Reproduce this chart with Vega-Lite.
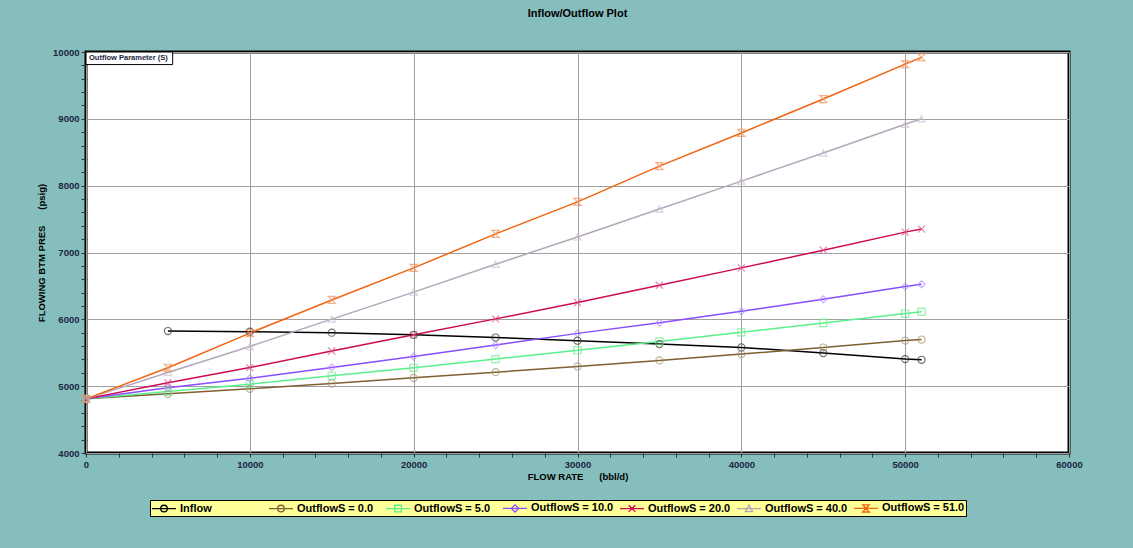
{
  "$schema": "https://vega.github.io/schema/vega-lite/v6.json",
  "autosize": {"type": "none"},
  "width": 983,
  "height": 401,
  "padding": {"left": 86, "top": 52, "right": 64, "bottom": 95},
  "background": "#86bdbd",
  "title": {"text": "Inflow/Outflow Plot", "font": "Liberation Sans Narrow, Liberation Sans", "fontSize": 11, "fontWeight": "bold", "color": "#000000", "anchor": "middle", "frame": "group", "offset": 28},
  "config": {
    "view": {"stroke": "#000000", "strokeWidth": 3, "fill": "#ffffff"},
    "axis": {"labelFont": "Liberation Sans", "labelFontSize": 9.5, "labelFontWeight": "bold", "labelColor": "#1c2541", "titleFont": "Liberation Sans", "titleFontSize": 9.5, "titleFontWeight": "bold", "titleColor": "#000000", "domain": false, "tickColor": "#333333", "tickSize": 5, "gridColor": "#a0a0a0", "gridWidth": 1, "labelOverlap": false, "labelFlush": false},
    "point": {"filled": false, "strokeWidth": 1.2, "size": 50}
  },
  "datasets": {
    "curves": [
      {"s": "Inflow", "q": 5000, "p": 5825}, {"s": "Inflow", "q": 10000, "p": 5815}, {"s": "Inflow", "q": 15000, "p": 5800}, {"s": "Inflow", "q": 20000, "p": 5768}, {"s": "Inflow", "q": 25000, "p": 5728}, {"s": "Inflow", "q": 30000, "p": 5680}, {"s": "Inflow", "q": 35000, "p": 5630}, {"s": "Inflow", "q": 40000, "p": 5580}, {"s": "Inflow", "q": 45000, "p": 5495}, {"s": "Inflow", "q": 50000, "p": 5405}, {"s": "Inflow", "q": 51000, "p": 5395},
      {"s": "OutflowS = 0.0", "q": 0, "p": 4810}, {"s": "OutflowS = 0.0", "q": 5000, "p": 4885}, {"s": "OutflowS = 0.0", "q": 10000, "p": 4960}, {"s": "OutflowS = 0.0", "q": 15000, "p": 5040}, {"s": "OutflowS = 0.0", "q": 20000, "p": 5125}, {"s": "OutflowS = 0.0", "q": 25000, "p": 5210}, {"s": "OutflowS = 0.0", "q": 30000, "p": 5295}, {"s": "OutflowS = 0.0", "q": 35000, "p": 5385}, {"s": "OutflowS = 0.0", "q": 40000, "p": 5480}, {"s": "OutflowS = 0.0", "q": 45000, "p": 5578}, {"s": "OutflowS = 0.0", "q": 50000, "p": 5683}, {"s": "OutflowS = 0.0", "q": 51000, "p": 5698},
      {"s": "OutflowS = 5.0", "q": 0, "p": 4810}, {"s": "OutflowS = 5.0", "q": 5000, "p": 4920}, {"s": "OutflowS = 5.0", "q": 10000, "p": 5030}, {"s": "OutflowS = 5.0", "q": 15000, "p": 5155}, {"s": "OutflowS = 5.0", "q": 20000, "p": 5275}, {"s": "OutflowS = 5.0", "q": 25000, "p": 5405}, {"s": "OutflowS = 5.0", "q": 30000, "p": 5538}, {"s": "OutflowS = 5.0", "q": 35000, "p": 5670}, {"s": "OutflowS = 5.0", "q": 40000, "p": 5805}, {"s": "OutflowS = 5.0", "q": 45000, "p": 5945}, {"s": "OutflowS = 5.0", "q": 50000, "p": 6087}, {"s": "OutflowS = 5.0", "q": 51000, "p": 6115},
      {"s": "OutflowS = 10.0", "q": 0, "p": 4810}, {"s": "OutflowS = 10.0", "q": 5000, "p": 4975}, {"s": "OutflowS = 10.0", "q": 10000, "p": 5118}, {"s": "OutflowS = 10.0", "q": 15000, "p": 5280}, {"s": "OutflowS = 10.0", "q": 20000, "p": 5444}, {"s": "OutflowS = 10.0", "q": 25000, "p": 5615}, {"s": "OutflowS = 10.0", "q": 30000, "p": 5790}, {"s": "OutflowS = 10.0", "q": 35000, "p": 5950}, {"s": "OutflowS = 10.0", "q": 40000, "p": 6120}, {"s": "OutflowS = 10.0", "q": 45000, "p": 6300}, {"s": "OutflowS = 10.0", "q": 50000, "p": 6490}, {"s": "OutflowS = 10.0", "q": 51000, "p": 6525},
      {"s": "OutflowS = 20.0", "q": 0, "p": 4810}, {"s": "OutflowS = 20.0", "q": 5000, "p": 5050}, {"s": "OutflowS = 20.0", "q": 10000, "p": 5278}, {"s": "OutflowS = 20.0", "q": 15000, "p": 5525}, {"s": "OutflowS = 20.0", "q": 20000, "p": 5768}, {"s": "OutflowS = 20.0", "q": 25000, "p": 6007}, {"s": "OutflowS = 20.0", "q": 30000, "p": 6251}, {"s": "OutflowS = 20.0", "q": 35000, "p": 6510}, {"s": "OutflowS = 20.0", "q": 40000, "p": 6770}, {"s": "OutflowS = 20.0", "q": 45000, "p": 7035}, {"s": "OutflowS = 20.0", "q": 50000, "p": 7305}, {"s": "OutflowS = 20.0", "q": 51000, "p": 7350},
      {"s": "OutflowS = 40.0", "q": 0, "p": 4810}, {"s": "OutflowS = 40.0", "q": 5000, "p": 5205}, {"s": "OutflowS = 40.0", "q": 10000, "p": 5594}, {"s": "OutflowS = 40.0", "q": 15000, "p": 6003}, {"s": "OutflowS = 40.0", "q": 20000, "p": 6407}, {"s": "OutflowS = 40.0", "q": 25000, "p": 6824}, {"s": "OutflowS = 40.0", "q": 30000, "p": 7233}, {"s": "OutflowS = 40.0", "q": 35000, "p": 7650}, {"s": "OutflowS = 40.0", "q": 40000, "p": 8068}, {"s": "OutflowS = 40.0", "q": 45000, "p": 8488}, {"s": "OutflowS = 40.0", "q": 50000, "p": 8918}, {"s": "OutflowS = 40.0", "q": 51000, "p": 9001},
      {"s": "OutflowS = 51.0", "q": 0, "p": 4810}, {"s": "OutflowS = 51.0", "q": 5000, "p": 5275}, {"s": "OutflowS = 51.0", "q": 10000, "p": 5794}, {"s": "OutflowS = 51.0", "q": 15000, "p": 6290}, {"s": "OutflowS = 51.0", "q": 20000, "p": 6770}, {"s": "OutflowS = 51.0", "q": 25000, "p": 7278}, {"s": "OutflowS = 51.0", "q": 30000, "p": 7757}, {"s": "OutflowS = 51.0", "q": 35000, "p": 8293}, {"s": "OutflowS = 51.0", "q": 40000, "p": 8789}, {"s": "OutflowS = 51.0", "q": 45000, "p": 9296}, {"s": "OutflowS = 51.0", "q": 50000, "p": 9819}, {"s": "OutflowS = 51.0", "q": 51000, "p": 9919}
    ]
  },
  "layer": [
    {
      "data": {"name": "curves"},
      "mark": {"type": "line", "strokeWidth": 1.5},
      "encoding": {
        "x": {"field": "q", "type": "quantitative", "title": "FLOW RATE\u00a0\u00a0\u00a0\u00a0\u00a0\u00a0(bbl/d)", "scale": {"domain": [0, 60000], "nice": false},
          "axis": {"values": [0,2000,4000,6000,8000,10000,12000,14000,16000,18000,20000,22000,24000,26000,28000,30000,32000,34000,36000,38000,40000,42000,44000,46000,48000,50000,52000,54000,56000,58000,60000], "tickCount": 100, "format": "d", "labelExpr": "datum.value % 10000 === 0 ? datum.label : ''", "gridColor": {"condition": {"test": "datum.value % 10000 === 0", "value": "#a0a0a0"}, "value": "transparent"}, "tickSize": 4, "labelPadding": 2, "titlePadding": 3}},
        "y": {"field": "p", "type": "quantitative", "title": "FLOWING BTM PRES\u00a0\u00a0\u00a0\u00a0\u00a0\u00a0(psig)", "scale": {"domain": [4000, 10000], "nice": false},
          "axis": {"values": [4000,4200,4400,4600,4800,5000,5200,5400,5600,5800,6000,6200,6400,6600,6800,7000,7200,7400,7600,7800,8000,8200,8400,8600,8800,9000,9200,9400,9600,9800,10000], "tickCount": 100, "format": "d", "labelExpr": "datum.value % 1000 === 0 ? datum.label : ''", "gridColor": {"condition": {"test": "datum.value % 1000 === 0", "value": "#a0a0a0"}, "value": "transparent"}, "tickSize": 5, "labelPadding": 2, "titlePadding": 6}},
        "color": {"field": "s", "type": "nominal",
          "scale": {"domain": ["Inflow", "OutflowS = 0.0", "OutflowS = 5.0", "OutflowS = 10.0", "OutflowS = 20.0", "OutflowS = 40.0", "OutflowS = 51.0"], "range": ["#000000", "#7d5f30", "#5cf08c", "#8a4dff", "#cc0a55", "#b4a6bc", "#f06410"]},
          "legend": {"title": null, "orient": "none", "legendX": 64, "legendY": 448, "direction": "horizontal", "columns": 7, "gridAlign": "all", "fillColor": "#ffff99", "strokeColor": "#000000", "padding": 1, "columnPadding": 3, "symbolSize": 144, "symbolOffset": 6, "labelOffset": 9, "labelFont": "Liberation Sans", "labelFontSize": 11, "labelFontWeight": "bold", "labelColor": "#000000", "labelLimit": 200,
            "encode": {"symbols": {"update": {"fill": {"value": "transparent"}, "strokeWidth": {"value": 1.3},
              "shape": {"signal": "datum.value === 'Inflow' || datum.value === 'OutflowS = 0.0' ? 'M-2,0L2,0M-0.55,0A0.55,0.55 0 1,0 0.55,0A0.55,0.55 0 1,0 -0.55,0' : datum.value === 'OutflowS = 5.0' ? 'M-2,0L2,0M-0.55,-0.55L0.55,-0.55L0.55,0.55L-0.55,0.55Z' : datum.value === 'OutflowS = 10.0' ? 'M-2,0L2,0M0,-0.6L0.6,0L0,0.6L-0.6,0Z' : datum.value === 'OutflowS = 20.0' ? 'M-2,0L2,0M-0.55,-0.55L0.55,0.55M-0.55,0.55L0.55,-0.55' : datum.value === 'OutflowS = 40.0' ? 'M-2,0L2,0M0,-0.6L0.6,0.5L-0.6,0.5Z' : 'M-2,0L2,0M-0.55,-0.6L0.55,-0.6L-0.55,0.6L0.55,0.6Z'"}}}}}}
      }
    },
    {
      "data": {"name": "curves"},
      "transform": [{"filter": "datum.s === 'Inflow' || datum.s === 'OutflowS = 0.0'"}],
      "mark": {"type": "point", "shape": "circle"},
      "encoding": {
        "x": {"field": "q", "type": "quantitative"},
        "y": {"field": "p", "type": "quantitative"},
        "stroke": {"field": "s", "type": "nominal", "legend": null, "scale": {"domain": ["Inflow", "OutflowS = 0.0", "OutflowS = 5.0", "OutflowS = 10.0", "OutflowS = 20.0", "OutflowS = 40.0", "OutflowS = 51.0"], "range": ["#333333", "#a89070", "#66ee88", "#b090ff", "#e0508a", "#c8c0d0", "#f0905a"]}}
      }
    },
    {
      "data": {"name": "curves"},
      "transform": [{"filter": "datum.s === 'OutflowS = 5.0'"}],
      "mark": {"type": "point", "shape": "square"},
      "encoding": {
        "x": {"field": "q", "type": "quantitative"},
        "y": {"field": "p", "type": "quantitative"},
        "stroke": {"field": "s", "type": "nominal", "legend": null}
      }
    },
    {
      "data": {"name": "curves"},
      "transform": [{"filter": "datum.s === 'OutflowS = 10.0'"}],
      "mark": {"type": "point", "shape": "diamond"},
      "encoding": {
        "x": {"field": "q", "type": "quantitative"},
        "y": {"field": "p", "type": "quantitative"},
        "stroke": {"field": "s", "type": "nominal", "legend": null}
      }
    },
    {
      "data": {"name": "curves"},
      "transform": [{"filter": "datum.s === 'OutflowS = 20.0'"}],
      "mark": {"type": "point", "shape": "M-1,-1L1,1M-1,1L1,-1"},
      "encoding": {
        "x": {"field": "q", "type": "quantitative"},
        "y": {"field": "p", "type": "quantitative"},
        "stroke": {"field": "s", "type": "nominal", "legend": null}
      }
    },
    {
      "data": {"name": "curves"},
      "transform": [{"filter": "datum.s === 'OutflowS = 40.0'"}],
      "mark": {"type": "point", "shape": "triangle-up"},
      "encoding": {
        "x": {"field": "q", "type": "quantitative"},
        "y": {"field": "p", "type": "quantitative"},
        "stroke": {"field": "s", "type": "nominal", "legend": null}
      }
    },
    {
      "data": {"name": "curves"},
      "transform": [{"filter": "datum.s === 'OutflowS = 51.0'"}],
      "mark": {"type": "point", "shape": "M-1,-1L1,-1L-1,1L1,1Z"},
      "encoding": {
        "x": {"field": "q", "type": "quantitative"},
        "y": {"field": "p", "type": "quantitative"},
        "stroke": {"field": "s", "type": "nominal", "legend": null}
      }
    },
    {
      "data": {"values": [{}]},
      "mark": {"type": "rect", "fill": "#ffffff", "stroke": "#000000", "strokeWidth": 1},
      "encoding": {
        "x": {"datum": 0, "type": "quantitative"},
        "x2": {"datum": 5290},
        "y": {"datum": 10000, "type": "quantitative"},
        "y2": {"datum": 9812}
      }
    },
    {
      "data": {"values": [{}]},
      "mark": {"type": "text", "align": "left", "baseline": "middle", "dx": 3, "dy": 6, "font": "Liberation Sans", "fontSize": 7.5, "fontWeight": "bold", "color": "#1c2541"},
      "encoding": {
        "x": {"datum": 0, "type": "quantitative"},
        "y": {"datum": 10000, "type": "quantitative"},
        "text": {"value": "Outflow Parameter (S)"}
      }
    }
  ]
}
